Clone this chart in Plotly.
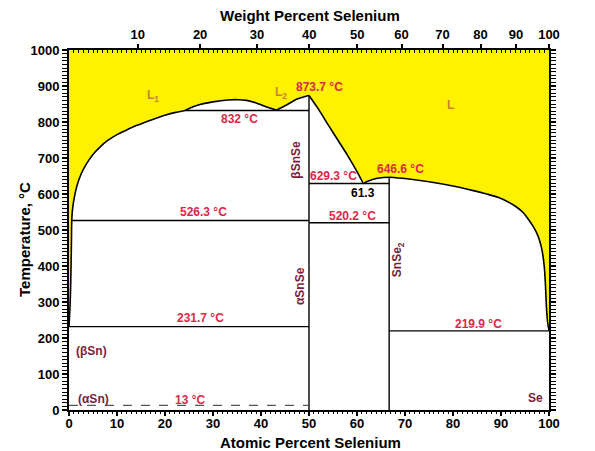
import numpy as np
import plotly.graph_objects as go

# ---------------- data ----------------
liq_sn_x = [0, 0.25, 0.4, 0.5, 0.6, 0.8, 1.1, 1.6, 2.5, 3.7, 5.0, 6.5, 8.0, 10, 12, 14, 16, 18, 20, 22, 24.2]
liq_sn_T = [231.97, 300, 380, 460, 535, 565, 590, 620, 655, 685, 710, 731, 748, 765, 778, 790, 800, 810, 819, 826, 832]

dome_x = [24.2, 26, 28, 30, 33, 35, 37, 39, 40.5, 42, 43.2]
dome_T = [832, 843, 851, 856, 861, 862, 860, 853, 845, 838, 833]

rise_x = [43.2, 45.3, 47.4, 48.7, 49.5, 50]
rise_T = [833, 847, 863, 869, 872, 873.7]

desc_x = [50, 52, 54, 56, 58, 60, 61.3]
desc_T = [873.7, 835, 792, 750, 708, 662, 629.3]

eu_x = [61.3, 62.5, 64, 65.5, 66.7]
eu_T = [629.3, 637, 643, 645.8, 646.6]

liq_se_x = [66.7, 70, 75, 80, 84, 87, 89.5, 91.5, 93, 94.5, 95.7, 96.7, 97.5, 98.1, 98.6, 99.0, 99.25, 99.45, 99.7, 100]
liq_se_T = [646.6, 643, 634, 622, 610, 600, 590, 578, 566, 550, 530, 510, 490, 468, 440, 400, 350, 290, 245, 221]

liquidus_segments = [(liq_sn_x, liq_sn_T), (dome_x, dome_T), (rise_x, rise_T),
                     (desc_x, desc_T), (eu_x, eu_T), (liq_se_x, liq_se_T)]

# invariant lines: (x_start, x_end, T)
iso_lines = [
    (24.2, 50, 832),
    (0.56, 50, 526.3),
    (0, 50, 231.7),
    (50, 66.7, 629.3),
    (50, 66.7, 520.2),
    (66.7, 100, 219.9),
]
dashed_line = (0, 50, 13)
# compounds: (x, T_top)
compounds = [(50, 873.7), (66.7, 646.6)]

wt_ticks = [10, 20, 30, 40, 50, 60, 70, 80, 90, 100]
M_SE, M_SN = 78.97, 118.71

RED = '#DC2846'
MAROON = '#7B1E3C'
ORANGE = '#C8832E'
BLUE = '#3B4BB5'
YELLOW = '#FFF100'
FONT = 'Liberation Sans, Arial, sans-serif'

# ---------------- figure ----------------
fig = go.Figure()

liq_x, liq_T = [], []
for sx, sT in liquidus_segments:
    if liq_x:
        liq_x += sx[1:]
        liq_T += sT[1:]
    else:
        liq_x += sx
        liq_T += sT

# base fill (covers seams between segment fills)
fig.add_trace(go.Scatter(x=liq_x + [100, 0], y=liq_T + [1000, 1000], fill='toself',
                         fillcolor=YELLOW, line=dict(width=0), mode='lines',
                         hoverinfo='skip', showlegend=False))

# smooth segment fills + outlines
for sx, sT in liquidus_segments:
    fig.add_trace(go.Scatter(x=[sx[0], sx[-1]], y=[1000, 1000], mode='lines',
                             line=dict(width=0), hoverinfo='skip', showlegend=False))
    fig.add_trace(go.Scatter(x=sx, y=sT, mode='lines', fill='tonexty', fillcolor=YELLOW,
                             line=dict(color='black', width=1.6, shape='spline', smoothing=1.0),
                             showlegend=False))

for x0, x1, T in iso_lines:
    fig.add_trace(go.Scatter(x=[x0, x1], y=[T, T], mode='lines',
                             line=dict(color='black', width=1.4), showlegend=False))
for xc, Tt in compounds:
    fig.add_trace(go.Scatter(x=[xc, xc], y=[0, Tt], mode='lines',
                             line=dict(color='black', width=1.4), showlegend=False))
fig.add_trace(go.Scatter(x=[dashed_line[0], dashed_line[1]], y=[dashed_line[2]] * 2, mode='lines',
                         line=dict(color='#555555', width=1.3, dash='dash'), showlegend=False))

# weight-percent axis positions
wt = np.array(wt_ticks, dtype=float)
n_se = wt / M_SE
n_sn = (100 - wt) / M_SN
at_pos = 100 * n_se / (n_se + n_sn)

for ax in ['x2', 'x3', 'x4']:
    fig.add_trace(go.Scatter(x=[0, 100], y=[0, 0], xaxis=ax, mode='markers',
                             marker=dict(opacity=0), hoverinfo='skip', showlegend=False))

tickfont = dict(family=FONT, size=13, color='black', weight='bold')

fig.update_layout(
    width=595, height=451,
    margin=dict(l=69, r=46, t=50, b=41),
    paper_bgcolor='white', plot_bgcolor='white',
    showlegend=False,
    xaxis=dict(range=[0, 100], tick0=0, dtick=10, ticks='',
               showline=True, linewidth=2, linecolor='black', mirror=True,
               showgrid=False, zeroline=False, tickfont=tickfont),
    xaxis4=dict(range=[0, 100], overlaying='x', side='bottom', tick0=0, dtick=10,
                ticks='outside', ticklen=5, tickwidth=1.5, tickcolor='black',
                showticklabels=False, showgrid=False, zeroline=False, showline=False,
                minor=dict(dtick=1, ticks='outside', ticklen=2.5, tickcolor='black', tickwidth=1)),
    xaxis2=dict(range=[0, 100], overlaying='x', side='top', tickmode='array',
                tickvals=list(at_pos), ticktext=[str(w) for w in wt_ticks],
                ticks='outside', ticklen=5, tickwidth=1.5, tickcolor='black',
                showgrid=False, zeroline=False, showline=False, tickfont=tickfont),
    xaxis3=dict(range=[0, 100], overlaying='x', side='top', tick0=0, dtick=1,
                ticks='inside', ticklen=3, tickwidth=1, tickcolor='black',
                showticklabels=False, showgrid=False, zeroline=False, showline=False),
    yaxis=dict(range=[0, 1000], tick0=0, dtick=100, ticks='outside', ticklen=5, tickwidth=1.5,
               tickcolor='black', showline=True, linewidth=2, linecolor='black', mirror='allticks',
               showgrid=False, zeroline=False, tickfont=tickfont,
               minor=dict(dtick=10, ticks='outside', ticklen=2.5, tickcolor='black', tickwidth=1)),
)

def ann(x, y, text, color, size=12, angle=0, xanchor='center'):
    fig.add_annotation(x=x, y=y, xref='x', yref='y', text=text, showarrow=False,
                       textangle=angle, xanchor=xanchor, yanchor='middle',
                       font=dict(family=FONT, size=size, color=color, weight='bold'))

# temperature labels
ann(52.1, 898, '873.7 °C', RED)
ann(35.6, 807, '832 °C', RED)
ann(55.1, 650, '629.3 °C', RED)
ann(69.0, 669, '646.6 °C', RED)
ann(61.3, 604, '61.3', 'black')
ann(59.1, 539, '520.2 °C', RED)
ann(28.1, 550, '526.3 °C', RED)
ann(27.3, 255, '231.7 °C', RED)
ann(85.3, 238, '219.9 °C', RED)
ann(25.2, 28, '13 °C', RED)
ann(-6.6, 230, '231.97°C', RED)
ann(104.8, 208, '221°C', RED)

# phase labels
ann(17.6, 872, 'L<sub>1</sub>', ORANGE)
ann(44.2, 880, 'L<sub>2</sub>', ORANGE)
ann(79.5, 846, 'L', ORANGE)
ann(47.4, 694, 'βSnSe', MAROON, angle=-90)
ann(48.1, 344, 'αSnSe', MAROON, angle=-90)
ann(68.6, 417, 'SnSe<sub>2</sub>', MAROON, angle=-90)
ann(4.6, 165, '(βSn)', MAROON)
ann(5.1, 31, '(αSn)', MAROON)
ann(97.1, 32, 'Se', MAROON)

# element labels
ann(-0.4, -83, 'Sn', BLUE, size=14)
ann(99.8, -79, 'Se', BLUE, size=14)

# axis titles
titlefont = dict(family=FONT, size=15, color='black', weight='bold')
fig.add_annotation(x=(310 - 69) / 480, y=(451 - 443 - 41) / 360, xref='paper', yref='paper',
                   text='Atomic Percent Selenium', showarrow=False, font=titlefont,
                   xanchor='center', yanchor='middle')
fig.add_annotation(x=(310 - 69) / 480, y=(410 - 16) / 360, xref='paper', yref='paper',
                   text='Weight Percent Selenium', showarrow=False, font=titlefont,
                   xanchor='center', yanchor='middle')
fig.add_annotation(x=(24 - 69) / 480, y=(410 - 240) / 360, xref='paper', yref='paper',
                   text='Temperature, °C', showarrow=False, font=titlefont, textangle=-90,
                   xanchor='center', yanchor='middle')

fig.write_html('out.html')
